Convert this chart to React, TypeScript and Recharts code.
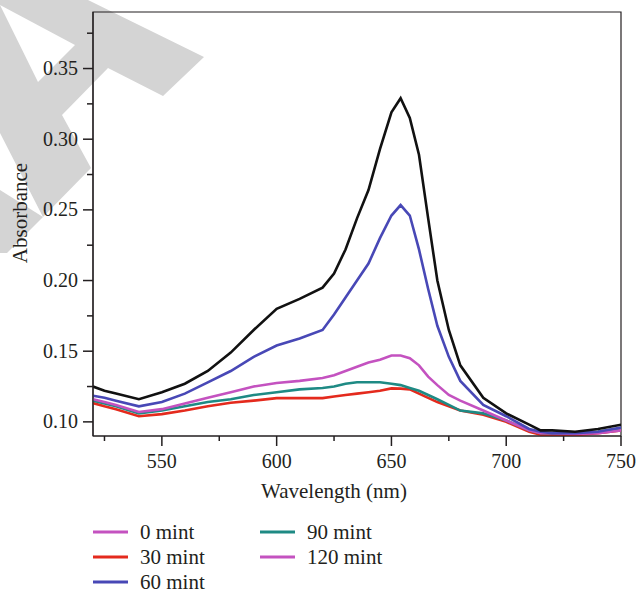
import React from "react";
import { Line, LineChart, ReferenceArea, XAxis, YAxis } from "recharts";

// wavelength (nm) sampled along the spectra
const wavelengths = [
  520, 525, 530, 540, 550, 560, 570, 580, 590, 600, 610, 620, 625, 630, 635, 640, 645, 650,
  654, 658, 662, 666, 670, 675, 680, 690, 700, 710, 715, 720, 730, 740, 750,
];

// absorbance per sample time
const mint0 = [
  0.125, 0.122, 0.12, 0.116, 0.121, 0.127, 0.136, 0.149, 0.165, 0.18, 0.187, 0.195, 0.205,
  0.222, 0.244, 0.264, 0.293, 0.319, 0.329, 0.315, 0.289, 0.244, 0.2, 0.165, 0.14, 0.117,
  0.106, 0.098, 0.094, 0.094, 0.093, 0.095, 0.098,
];
const mint30 = [
  0.1133, 0.111, 0.109, 0.104, 0.1055, 0.108, 0.111, 0.1135, 0.115, 0.1168, 0.1168, 0.1168,
  0.118, 0.119, 0.12, 0.121, 0.122, 0.1237, 0.1235, 0.123, 0.12, 0.117, 0.114, 0.111, 0.108,
  0.105, 0.1, 0.093, 0.091, 0.0905, 0.0906, 0.092, 0.094,
];
const mint60 = [
  0.1185, 0.117, 0.115, 0.111, 0.114, 0.12, 0.128, 0.136, 0.146, 0.154, 0.159, 0.165, 0.176,
  0.188, 0.2, 0.212, 0.23, 0.246, 0.2534, 0.246, 0.222, 0.194, 0.168, 0.146, 0.129, 0.112,
  0.104, 0.095, 0.093, 0.092, 0.092, 0.093, 0.096,
];
const mint90 = [
  0.115, 0.113, 0.111, 0.106, 0.108, 0.111, 0.114, 0.116, 0.119, 0.121, 0.123, 0.124, 0.125,
  0.127, 0.128, 0.128, 0.128, 0.127, 0.126, 0.124, 0.122, 0.119, 0.116, 0.112, 0.108, 0.106,
  0.101, 0.094, 0.092, 0.092, 0.092, 0.093, 0.0955,
];
const mint120 = [
  0.116, 0.114, 0.112, 0.107, 0.109, 0.113, 0.117, 0.121, 0.125, 0.1275, 0.129, 0.131, 0.133,
  0.136, 0.139, 0.142, 0.144, 0.147, 0.147, 0.145, 0.14, 0.132, 0.126, 0.119, 0.115, 0.108,
  0.101, 0.094, 0.092, 0.092, 0.0915, 0.092, 0.094,
];

const xTicks = [525, 550, 575, 600, 625, 650, 675, 700, 725, 750];
const yTicks = [0.1, 0.125, 0.15, 0.175, 0.2, 0.225, 0.25, 0.275, 0.3, 0.325, 0.35, 0.375];

const legendItems = [
  { label: "0 mint", color: "#c452c0" },
  { label: "30 mint", color: "#e42a1d" },
  { label: "60 mint", color: "#4848b6" },
  { label: "90 mint", color: "#1e8a84" },
  { label: "120 mint", color: "#c452c0" },
];

const data = wavelengths.map((w, i) => ({
  w,
  m0: mint0[i],
  m30: mint30[i],
  m60: mint60[i],
  m90: mint90[i],
  m120: mint120[i],
}));

const INK = "#231f20";
const FONT = "'Liberation Serif', 'Times New Roman', serif";

function XTick({ x, y, payload }: any) {
  const major = payload.value % 50 === 0;
  return (
    <g>
      <line x1={x} y1={y} x2={x} y2={y + (major ? 10 : 5)} stroke={INK} strokeWidth={1.5} />
      {major ? (
        <text x={x} y={y + 32} textAnchor="middle" fill={INK} fontSize={20} style={{ fontFamily: FONT }}>
          {payload.value}
        </text>
      ) : null}
    </g>
  );
}

function YTick({ x, y, payload }: any) {
  const major = Math.round(payload.value * 1000) % 50 === 0;
  return (
    <g>
      <line x1={x} y1={y} x2={x - (major ? 10 : 6)} y2={y} stroke={INK} strokeWidth={1.5} />
      {major ? (
        <text x={x - 15} y={y + 6.6} textAnchor="end" fill={INK} fontSize={20} style={{ fontFamily: FONT }}>
          {payload.value.toFixed(2)}
        </text>
      ) : null}
    </g>
  );
}

export default function App() {
  return (
    <div
      style={{
        position: "fixed",
        left: 0,
        top: 0,
        width: 639,
        height: 594,
        background: "#fff",
        overflow: "hidden",
      }}
    >
      {/* grey watermark behind the figure */}
      <svg width={639} height={594} style={{ position: "absolute", left: 0, top: 0 }}>
        <path
          d="M0,0 L88,0 L204,57 L163,96 L108,68 L62,115 L91,168 L43,217 L0,133 Z M0,5 L75,45 L38,82 Z"
          fill="#d4d4d4"
          fillRule="evenodd"
        />
        <path d="M0,190 L43,217 L7,253 L0,253 Z" fill="#d4d4d4" />
      </svg>

      <div style={{ position: "absolute", left: 0, top: 0 }}>
        <LineChart
          width={639}
          height={594}
          data={data}
          margin={{ top: 12, right: 18, left: 13, bottom: 128 }}
        >
          <ReferenceArea
            x1={520}
            x2={750}
            y1={0.09}
            y2={0.39}
            fill="none"
            fillOpacity={0}
            stroke={INK}
            strokeWidth={1.2}
          />
          <XAxis
            dataKey="w"
            type="number"
            domain={[520, 750]}
            ticks={xTicks}
            interval={0}
            allowDataOverflow
            height={30}
            tickLine={false}
            tickSize={0}
            tickMargin={0}
            axisLine={{ stroke: INK, strokeWidth: 1.2 }}
            tick={<XTick />}
            label={() => (
              <text x={334} y={498} textAnchor="middle" fill={INK} fontSize={21} style={{ fontFamily: FONT }}>
                Wavelength (nm)
              </text>
            )}
          />
          <YAxis
            type="number"
            domain={[0.09, 0.39]}
            ticks={yTicks}
            interval={0}
            allowDataOverflow
            width={80}
            tickLine={false}
            tickSize={0}
            tickMargin={0}
            axisLine={{ stroke: INK, strokeWidth: 1.2 }}
            tick={<YTick />}
            label={() => (
              <text
                x={27}
                y={213}
                transform="rotate(-90 27 213)"
                textAnchor="middle"
                fill={INK}
                fontSize={21}
                style={{ fontFamily: FONT }}
              >
                Absorbance
              </text>
            )}
          />
          <Line dataKey="m30" type="linear" stroke="#e42a1d" strokeWidth={2.6} dot={false} isAnimationActive={false} />
          <Line dataKey="m90" type="linear" stroke="#1e8a84" strokeWidth={2.6} dot={false} isAnimationActive={false} />
          <Line dataKey="m120" type="linear" stroke="#c452c0" strokeWidth={2.6} dot={false} isAnimationActive={false} />
          <Line dataKey="m60" type="linear" stroke="#4848b6" strokeWidth={2.6} dot={false} isAnimationActive={false} />
          <Line dataKey="m0" type="linear" stroke="#111111" strokeWidth={2.6} dot={false} isAnimationActive={false} />
        </LineChart>
      </div>

      {/* legend, two columns */}
      <svg width={639} height={594} style={{ position: "absolute", left: 0, top: 0 }}>
        {legendItems.map((item, i) => {
          const col = i < 3 ? 0 : 1;
          const row = i < 3 ? i : i - 3;
          const lx = col === 0 ? 93 : 260;
          const ly = 532 + row * 25;
          return (
            <g key={item.label}>
              <line x1={lx} y1={ly} x2={lx + 35} y2={ly} stroke={item.color} strokeWidth={3} />
              <text x={lx + 47} y={ly + 6.5} fill={INK} fontSize={21} style={{ fontFamily: FONT }}>
                {item.label}
              </text>
            </g>
          );
        })}
      </svg>
    </div>
  );
}
